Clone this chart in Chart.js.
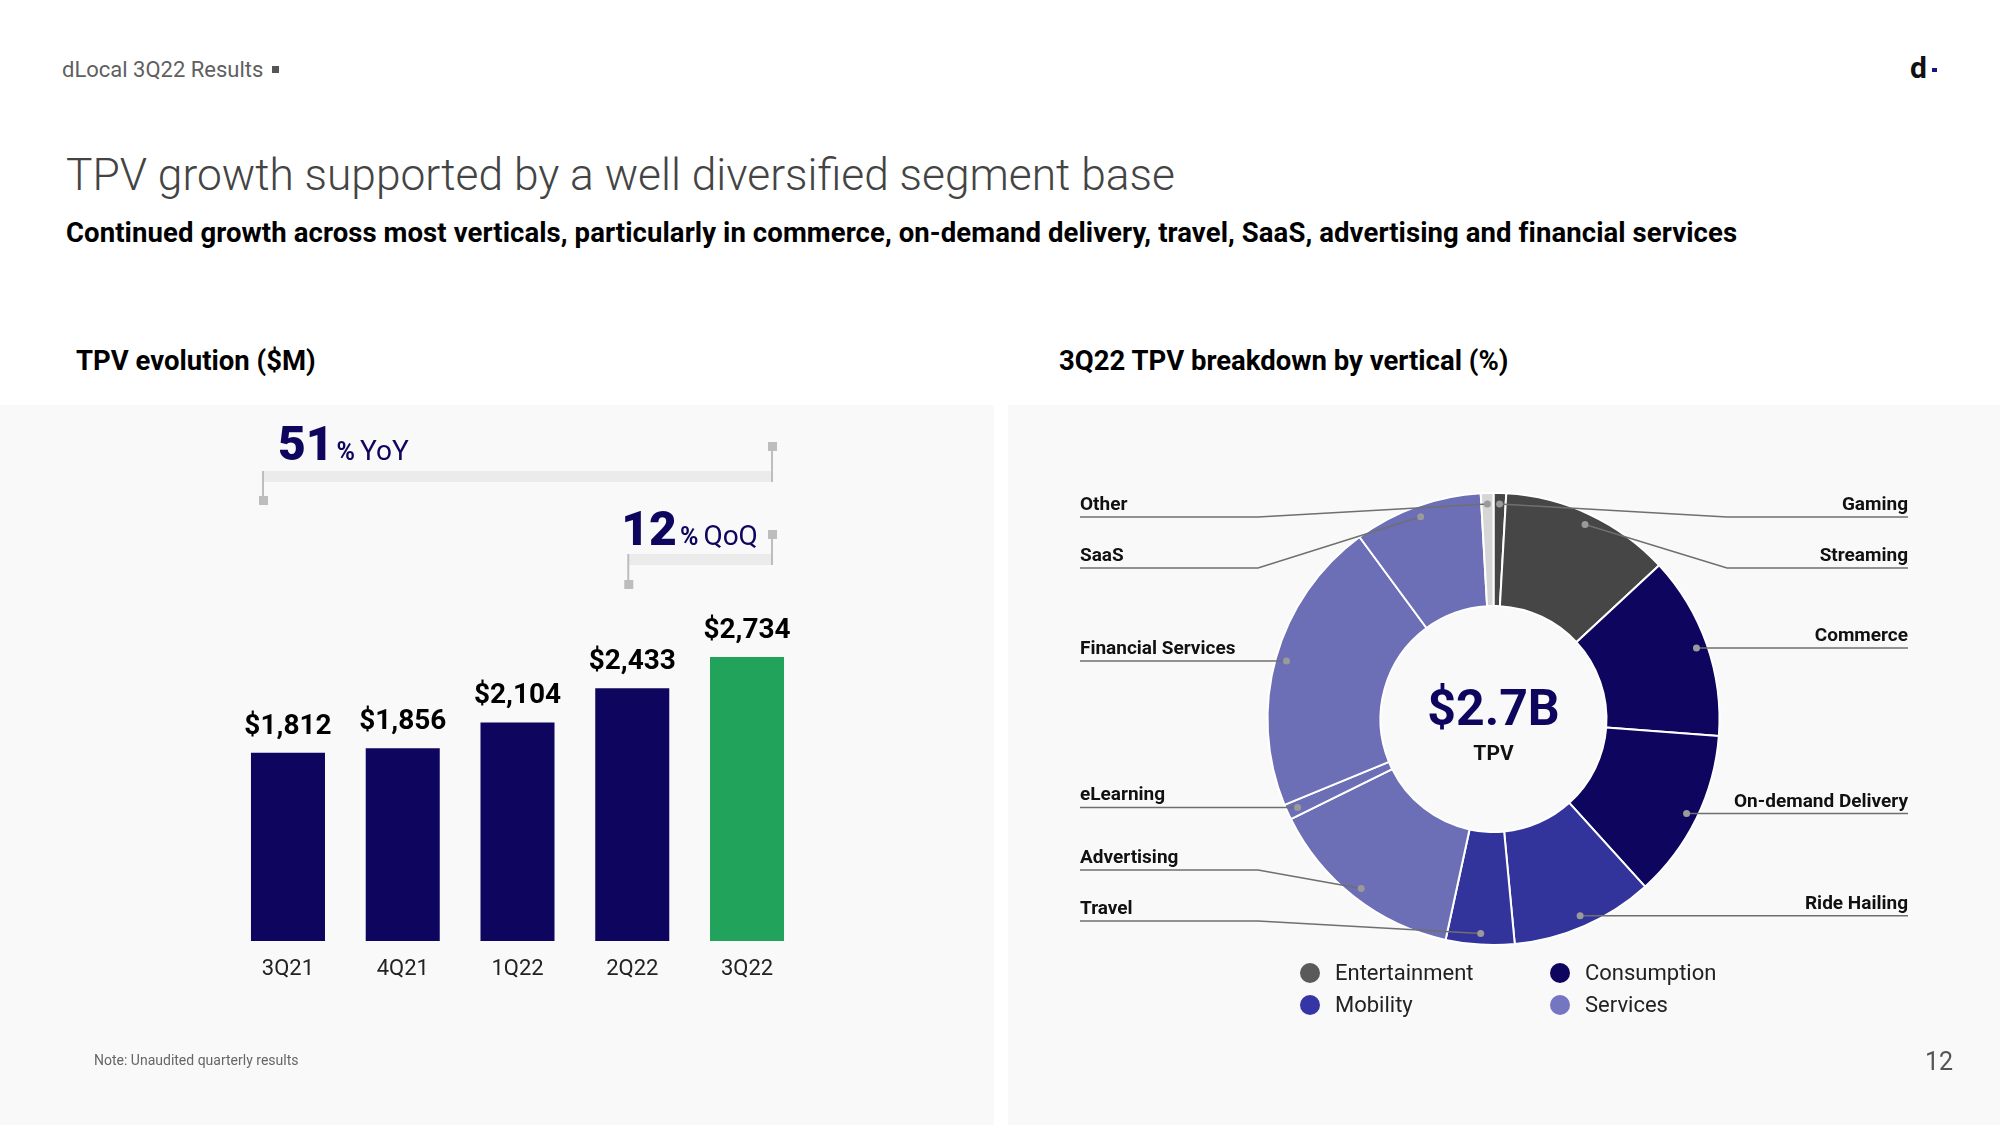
<!DOCTYPE html>
<html>
<head>
<meta charset="utf-8">
<script src="https://cdn.jsdelivr.net/npm/chart.js@4.4.0/dist/chart.umd.min.js"></script>
<style>
  html, body { margin: 0; padding: 0; }
  body { width: 2000px; height: 1125px; position: relative; overflow: hidden; background: #fff; font-family: Roboto, "Noto Sans", sans-serif; }
  .t { position: absolute; white-space: nowrap; line-height: 1; }
  .panel { position: absolute; top: 405px; height: 720px; background: #f9f9f9; }
  .dot { position: absolute; width: 20px; height: 20px; border-radius: 50%; }
  canvas { position: absolute; }
</style>
</head>
<body>
<div class="t" style="left:62px; top:59px; font-size:22px; color:#5f5f5f;">dLocal 3Q22 Results</div>
<div style="position:absolute; left:272px; top:66px; width:7px; height:7px; background:#555;"></div>
<div class="t" style="left:1910px; top:53px; font-size:30px; font-weight:700; color:#111;">d</div>
<div style="position:absolute; left:1932px; top:68px; width:5px; height:4px; background:#1b1480;"></div>

<div class="t" style="left:66px; top:153px; font-size:44.3px; font-weight:300; color:#444;">TPV growth supported by a well diversified segment base</div>
<div class="t" style="left:66px; top:219px; font-size:27.5px; letter-spacing:0.09px; font-weight:700; color:#000;">Continued growth across most verticals, particularly in commerce, on-demand delivery, travel, SaaS, advertising and financial services</div>

<div class="t" style="left:76px; top:347px; font-size:27.5px; font-weight:700; color:#000;">TPV evolution ($M)</div>
<div class="t" style="left:1059px; top:347px; font-size:27.5px; font-weight:700; color:#000;">3Q22 TPV breakdown by vertical (%)</div>

<div class="panel" style="left:0; width:994px;"></div>
<div class="panel" style="left:1008px; width:992px;"></div>

<canvas id="bars" width="994" height="720" style="left:0; top:405px; width:994px; height:720px;"></canvas>
<canvas id="donut" width="992" height="720" style="left:1008px; top:405px; width:992px; height:720px;"></canvas>

<div id="legend"></div>

<div class="t" style="left:94px; top:1053px; font-size:14px; color:#666;">Note: Unaudited quarterly results</div>
<div class="t" style="left:1925px; top:1049px; font-size:25px; color:#555;">12</div>

<script>
// TPV by quarter, $M
const quarters = ['3Q21', '4Q21', '1Q22', '2Q22', '3Q22'];
const tpv = [1812, 1856, 2104, 2433, 2734];
const growthYoY = 51;
const growthQoQ = 12;

// 3Q22 TPV share by vertical (%), clockwise from 12 o'clock
const verticals = ['Gaming', 'Streaming', 'Commerce', 'On-demand Delivery', 'Ride Hailing', 'Travel',
  'Advertising', 'eLearning', 'Financial Services', 'SaaS', 'Other'];
const shares = [0.9, 12.2, 13.1, 12.1, 10.2, 4.9, 14.3, 1.1, 21.1, 9.2, 0.9];
const verticalGroup = ['Entertainment', 'Entertainment', 'Consumption', 'Consumption', 'Mobility', 'Mobility',
  'Services', 'Services', 'Services', 'Services', 'Other'];
const groups = ['Entertainment', 'Consumption', 'Mobility', 'Services'];
const totalLabel = '$2.7B';

// styling
const NAVY = '#0e065e';
const GREEN = '#22a35c';
const sliceColor = { Entertainment: '#464646', Consumption: '#0e065e', Mobility: '#33349b', Services: '#6c6eb6', Other: '#d6d6d6' };
const legendColor = { Entertainment: '#5a5a5a', Consumption: '#0e065e', Mobility: '#3535a6', Services: '#7476c2' };

// where each vertical's label sits (null y = straight line at the dot's height)
const labelPlace = {
  'Gaming': { side: 'right', y: 112 },
  'Streaming': { side: 'right', y: 163 },
  'Commerce': { side: 'right', y: null },
  'On-demand Delivery': { side: 'right', y: null },
  'Ride Hailing': { side: 'right', y: null },
  'Travel': { side: 'left', y: 516 },
  'Advertising': { side: 'left', y: 465 },
  'eLearning': { side: 'left', y: null },
  'Financial Services': { side: 'left', y: null },
  'SaaS': { side: 'left', y: 163 },
  'Other': { side: 'left', y: 112 }
};

// legend (html)
const legendEl = document.getElementById('legend');
groups.forEach((g, i) => {
  const cx = i % 2 === 0 ? 1310 : 1560;
  const cy = i < 2 ? 973 : 1005;
  const d = document.createElement('div');
  d.className = 'dot';
  d.style.left = (cx - 10) + 'px';
  d.style.top = (cy - 10) + 'px';
  d.style.background = legendColor[g];
  legendEl.appendChild(d);
  const t = document.createElement('div');
  t.className = 't';
  t.style.left = (cx + 25) + 'px';
  t.style.top = (cy - 11) + 'px';
  t.style.fontSize = '22px';
  t.style.color = '#222';
  t.textContent = g;
  legendEl.appendChild(t);
});

const barLabels = {
  id: 'barLabels',
  afterDatasetsDraw(chart) {
    const ctx = chart.ctx;
    const bars = chart.getDatasetMeta(0).data;
    ctx.save();
    ctx.fillStyle = '#000';
    ctx.font = '700 28px Roboto';
    ctx.textAlign = 'center';
    ctx.textBaseline = 'alphabetic';
    bars.forEach((b, i) => {
      ctx.fillText('$' + tpv[i].toLocaleString('en-US'), b.x, b.y - 19);
    });
    ctx.restore();
  }
};

function drawBracket(ctx, left, right, stripTop, leftEnd, rightEnd) {
  ctx.fillStyle = '#ebebeb';
  ctx.fillRect(left, stripTop, right - left, 11);
  ctx.strokeStyle = '#bdbdbd';
  ctx.fillStyle = '#bdbdbd';
  ctx.lineWidth = 2;
  ctx.beginPath();
  ctx.moveTo(left, stripTop);
  ctx.lineTo(left, leftEnd);
  ctx.moveTo(right, stripTop + 11);
  ctx.lineTo(right, rightEnd);
  ctx.stroke();
  ctx.fillRect(left - 4, leftEnd - 5, 9, 9);
  ctx.fillRect(right - 4, rightEnd - 4, 9, 9);
}

function drawGrowth(ctx, x, baseline, num, tag) {
  ctx.fillStyle = NAVY;
  ctx.textAlign = 'left';
  ctx.textBaseline = 'alphabetic';
  ctx.font = '900 48px Roboto';
  ctx.fillText(String(num), x, baseline);
  x += ctx.measureText(String(num)).width + 3;
  ctx.font = '700 25px Roboto';
  ctx.fillText('%', x, baseline);
  x += ctx.measureText('%').width + 5;
  ctx.font = '400 28px Roboto';
  ctx.fillText(tag, x, baseline);
}

const growthMarks = {
  id: 'growthMarks',
  afterDraw(chart) {
    const ctx = chart.ctx;
    const bars = chart.getDatasetMeta(0).data;
    const last = bars[bars.length - 1].x;
    ctx.save();
    const yoyL = bars[0].x - 25, yoyR = last + 25;
    drawBracket(ctx, yoyL, yoyR, 66, 96, 41);
    drawGrowth(ctx, yoyL + 15, 55, growthYoY, 'YoY');
    const qoqL = bars[bars.length - 2].x - 4;
    drawBracket(ctx, qoqL, yoyR, 149, 180, 129);
    drawGrowth(ctx, qoqL - 7, 140, growthQoQ, 'QoQ');
    ctx.restore();
  }
};

new Chart(document.getElementById('bars'), {
  type: 'bar',
  data: {
    labels: quarters,
    datasets: [{
      data: tpv,
      backgroundColor: [NAVY, NAVY, NAVY, NAVY, GREEN],
      borderWidth: 0,
      categoryPercentage: 1,
      barPercentage: 0.645
    }]
  },
  options: {
    responsive: false,
    animation: false,
    layout: { padding: { left: 230.6, right: 189.6, top: 224.4, bottom: 127.6 } },
    plugins: { legend: { display: false }, tooltip: { enabled: false } },
    scales: {
      x: {
        grid: { display: false, drawTicks: false },
        border: { display: false },
        ticks: { color: '#222', font: { family: 'Roboto', size: 22 }, padding: 15 }
      },
      y: { display: false, min: 0, max: 3000 }
    }
  },
  plugins: [barLabels, growthMarks]
});

const leaders = {
  id: 'leaders',
  afterDatasetsDraw(chart) {
    const ctx = chart.ctx;
    const arcs = chart.getDatasetMeta(0).data;
    ctx.save();
    arcs.forEach((a, i) => {
      const name = verticals[i];
      const p = labelPlace[name];
      const mid = (a.startAngle + a.endAngle) / 2;
      const r = a.outerRadius - 11;
      const dx = a.x + Math.cos(mid) * r;
      const dy = a.y + Math.sin(mid) * r;
      const uy = p.y === null ? dy : p.y;
      const left = p.side === 'left';
      const lx = left ? 72 : 900;
      const ex = left ? 250 : 719;
      ctx.strokeStyle = '#6f6f6f';
      ctx.lineWidth = 1.5;
      ctx.beginPath();
      ctx.moveTo(lx, uy);
      if (p.y === null) {
        ctx.lineTo(dx, dy);
      } else {
        ctx.lineTo(ex, uy);
        ctx.lineTo(dx, dy);
      }
      ctx.stroke();
      ctx.fillStyle = '#9a9a9a';
      ctx.beginPath();
      ctx.arc(dx, dy, 3.5, 0, Math.PI * 2);
      ctx.fill();
      ctx.fillStyle = '#111';
      ctx.font = '700 19px Roboto';
      ctx.textAlign = left ? 'left' : 'right';
      ctx.textBaseline = 'alphabetic';
      ctx.fillText(name, lx, uy - 7);
    });
    // centre text
    const c = arcs[0];
    ctx.textAlign = 'center';
    ctx.fillStyle = NAVY;
    ctx.font = '700 50px Roboto';
    ctx.fillText(totalLabel, c.x, c.y + 6);
    ctx.fillStyle = '#111';
    ctx.font = '700 21px Roboto';
    ctx.fillText('TPV', c.x, c.y + 41);
    ctx.restore();
  }
};

new Chart(document.getElementById('donut'), {
  type: 'doughnut',
  data: {
    labels: verticals,
    datasets: [{
      data: shares,
      backgroundColor: verticalGroup.map(g => sliceColor[g]),
      borderColor: '#ffffff',
      borderWidth: 2,
      hoverOffset: 0
    }]
  },
  options: {
    responsive: false,
    animation: false,
    cutout: '50%',
    layout: { padding: { left: 258.5, right: 279.5, top: 87, bottom: 179 } },
    plugins: { legend: { display: false }, tooltip: { enabled: false } }
  },
  plugins: [leaders]
});
</script>
</body>
</html>
